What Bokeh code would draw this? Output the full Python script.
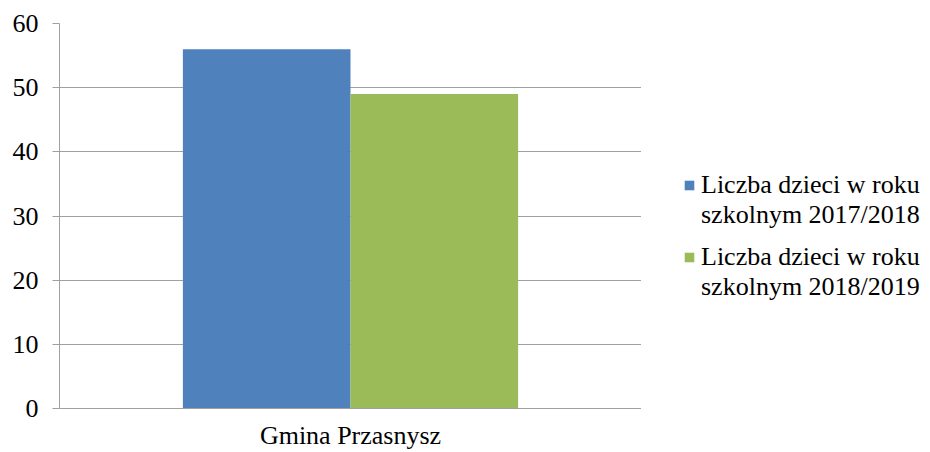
from bokeh.plotting import figure
from bokeh.layouts import row
from bokeh.models import Legend, LegendItem, FactorRange, ColumnDataSource, FixedTicker, Range1d
from bokeh.transform import dodge
from bokeh.embed import file_html
from bokeh.resources import INLINE

categories = ["Gmina Przasnysz"]
series_labels = [["Liczba dzieci w roku", "szkolnym 2017/2018"],
                 ["Liczba dzieci w roku", "szkolnym 2018/2019"]]
values_2017_2018 = [56]
values_2018_2019 = [49]
y_ticks = [0, 10, 20, 30, 40, 50, 60]
colors = ["#4F81BD", "#9BBB59"]

FONT = "Liberation Serif"
GRID = "#A0A0A0"
FS = "26px"

src = ColumnDataSource(dict(cat=categories, a=values_2017_2018, b=values_2018_2019))

p = figure(width=641, height=452, x_range=FactorRange(factors=categories),
           y_range=(0, 60), output_backend="svg", toolbar_location=None,
           min_border_left=59, min_border_right=0, min_border_top=23,
           min_border_bottom=44)
p.outline_line_color = None

r1 = p.vbar(x=dodge("cat", -0.144, range=p.x_range), top="a", width=0.288,
            source=src, color=colors[0], line_color=None)
r2 = p.vbar(x=dodge("cat", 0.144, range=p.x_range), top="b", width=0.288,
            source=src, color=colors[1], line_color=None)

p.yaxis.ticker = FixedTicker(ticks=y_ticks)
p.yaxis.minor_tick_line_color = None
p.yaxis.major_tick_out = 7
p.yaxis.major_tick_in = 0
p.yaxis.major_tick_line_color = GRID
p.yaxis.axis_line_color = GRID
p.yaxis.major_label_text_font = FONT
p.yaxis.major_label_text_font_size = FS
p.yaxis.major_label_text_color = "black"
p.yaxis.major_label_standoff = 14

p.xaxis.major_tick_line_color = None
p.xaxis.major_tick_out = 0
p.xaxis.major_tick_in = 0
p.xaxis.axis_line_color = GRID
p.xaxis.major_label_text_font = FONT
p.xaxis.major_label_text_font_size = FS
p.xaxis.major_label_text_color = "black"
p.xaxis.major_label_text_line_height = 0.8
p.xaxis.major_label_standoff = 12

p.xgrid.grid_line_color = None
p.ygrid.grid_line_color = GRID
p.ygrid.grid_line_width = 1

# legend panel (keys drawn from off-range dummy bars in the same colours)
p2 = figure(width=289, height=452, x_range=Range1d(0, 1), y_range=Range1d(0, 1),
            output_backend="svg", toolbar_location=None,
            x_axis_location=None, y_axis_location=None,
            min_border=0)
p2.outline_line_color = None
p2.grid.visible = False
dummy = ColumnDataSource(dict(x=[5], top=[5]))
keys = [p2.vbar(x="x", top="top", width=0.1, source=dummy, color=c, line_color=None)
        for c in colors]
blank = p2.vbar(x="x", top="top", width=0.1, source=dummy, fill_alpha=0, line_alpha=0)

for i, loc in enumerate([(42, 178), (42, 106)]):
    lg = Legend(items=[LegendItem(label=series_labels[i][0], renderers=[keys[i]]),
                       LegendItem(label=series_labels[i][1], renderers=[blank])],
                location=loc)
    lg.border_line_color = None
    lg.background_fill_alpha = 0
    lg.margin = 0
    lg.padding = 0
    lg.label_text_font = FONT
    lg.label_text_font_size = FS
    lg.label_text_color = "black"
    lg.label_text_line_height = 1.1
    lg.glyph_width = 12
    lg.glyph_height = 12
    lg.spacing = -2
    lg.label_standoff = 6
    p2.add_layout(lg, "center")

layout = row(p, p2)
open("out.html", "w").write(file_html(layout, INLINE))
